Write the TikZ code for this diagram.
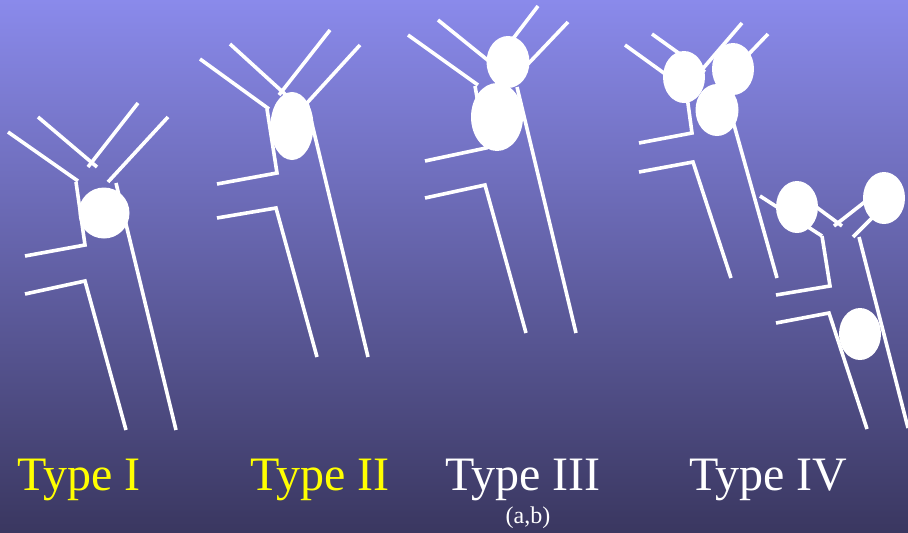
\documentclass[tikz,border=0pt]{standalone}
\usepackage{fontspec}
\setmainfont{Liberation Serif}
\usepackage{xcolor}
\definecolor{bgtop}{RGB}{138,138,235}
\definecolor{bgbot}{RGB}{58,55,96}
\definecolor{tyellow}{RGB}{255,255,0}
\begin{document}
\begin{tikzpicture}[x=1pt,y=-1pt]
		% 定义样式
		\tikzstyle{strand} = [draw=white, line width=3.6pt, line join=miter]	% 白色链
		\tikzstyle{blob} = [fill=white]	% 结合体
		\tikzstyle{typelabel} = [anchor=base west, inner sep=0pt, font=\fontsize{48}{50}\selectfont]	% 类型标签
		% 背景
		\useasboundingbox (0,0) rectangle (908,533);
		\shade[top color=bgtop, bottom color=bgbot] (0,0) rectangle (908,533);

		% Type I
		\draw [strand] (8,132) -- (78,181);
		\draw [strand] (38,117) -- (97,167);
		\draw [strand] (138,103) -- (88,167);
		\draw [strand] (168,117) -- (108,182);
		\draw [strand] (76,182) -- (85,245) -- (25,256);
		\draw [strand] (116,183) -- (176,430);
		\draw [strand] (25,294) -- (85,281) -- (126,430);
		\fill [blob] (104,213) circle (25.5);

		% Type II
		\draw [strand] (200,59) -- (269,109);
		\draw [strand] (230,44) -- (286,95);
		\draw [strand] (330,30) -- (279,95);
		\draw [strand] (360,45) -- (307,103);
		\draw [strand] (267,109) -- (277,173) -- (217,184);
		\draw [strand] (307,103) -- (368,357);
		\draw [strand] (217,218) -- (276,208) -- (317,357);
		\fill [blob] (292,126) ellipse (21.5 and 34);

		% Type III
		\draw [strand] (408,35) -- (478,85);
		\draw [strand] (438,20) -- (490,62);
		\draw [strand] (538,6) -- (512,40);
		\draw [strand] (568,22) -- (528,64);
		\draw [strand] (475,86) -- (486,148) -- (425,161);
		\draw [strand] (517,87) -- (576,333);
		\draw [strand] (425,198) -- (485,185) -- (526,333);
		\fill [blob] (508,62) ellipse (21.5 and 26);
		\fill [blob] (497,117) ellipse (26 and 34);

		% Type IV（上）
		\draw [strand] (625,45) -- (686,89);
		\draw [strand] (652,34) -- (705,72);
		\draw [strand] (742,23) -- (700,72);
		\draw [strand] (768,34) -- (722,82);
		\draw [strand] (686,89) -- (692,133) -- (639,143);
		\draw [strand] (722,82) -- (777,278);
		\draw [strand] (639,172) -- (693,162) -- (731,278);
		\fill [blob] (684,77) ellipse (21 and 26);
		\fill [blob] (733,69) ellipse (21 and 26);
		\fill [blob] (717,110) ellipse (21.5 and 26);

		% Type IV（下）
		\draw [strand] (760,196) -- (822,236);
		\draw [strand] (800,195) -- (842,226);
		\draw [strand] (880,190) -- (834,226);
		\draw [strand] (890,200) -- (853,237);
		\draw [strand] (822,236) -- (830,286) -- (776,295);
		\draw [strand] (859,237) -- (908,428);
		\draw [strand] (776,323) -- (829,313) -- (867,429);
		\fill [blob] (797,207) ellipse (21 and 26);
		\fill [blob] (884,198) ellipse (21 and 26);
		\fill [blob] (860,334) ellipse (21 and 26);

		% 标签
		\node (t1) [typelabel, text=tyellow] at (17,490) {Type I};
		\node (t2) [typelabel, text=tyellow] at (250,490) {Type II};
		\node (t3) [typelabel, text=white] at (445,490) {Type III};
		\node (t4) [typelabel, text=white] at (689,490) {Type IV};
		\node (sub3) [anchor=base, inner sep=0pt, text=white, font=\fontsize{24}{26}\selectfont] at (528,523) {(a,b)};
	\end{tikzpicture}
\end{document}
